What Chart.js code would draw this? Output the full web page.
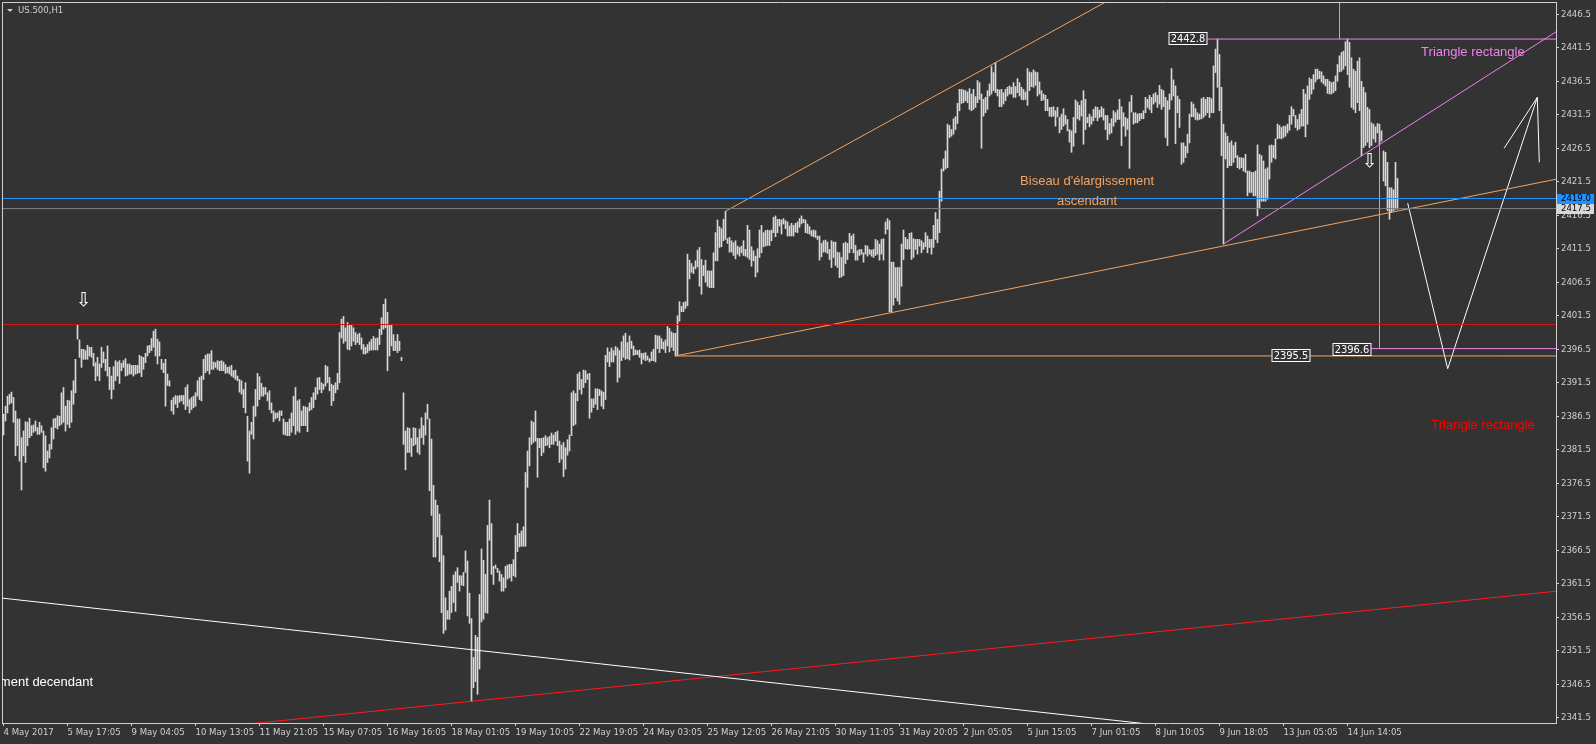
<!DOCTYPE html>
<html>
<head>
<meta charset="utf-8">
<title>US.500,H1</title>
<script src="https://cdn.jsdelivr.net/npm/chart.js@4.4.1/dist/chart.umd.min.js"></script>
<style>
  html, body { margin: 0; padding: 0; background: #333333; }
  canvas { display: block; }
</style>
</head>
<body>
<canvas id="chart" width="1596" height="744"></canvas>
<script>
// US.500 H1 bars, 4 May -> 14 Jun 2017 (high / low)
var highs = [
  2386.8, 2388.0, 2389.5, 2389.8, 2390.1, 2389.3, 2387.3, 2386.1, 2386.1, 2383.3,
  2384.3, 2385.7, 2385.6, 2386.2, 2385.1, 2385.2, 2385.8, 2384.8, 2385.6, 2385.1,
  2384.3, 2383.6, 2381.3, 2382.3, 2384.8, 2386.1, 2386.2, 2386.6, 2386.5, 2390.0,
  2390.8, 2388.0, 2388.9, 2388.8, 2390.3, 2391.8, 2395.0, 2400.1, 2397.9, 2396.5,
  2396.5, 2396.3, 2397.1, 2396.8, 2396.8, 2395.9, 2394.5, 2395.3, 2394.3, 2396.8,
  2396.1, 2395.0, 2397.0, 2393.8, 2392.5, 2393.9, 2394.8, 2394.6, 2394.8, 2394.4,
  2394.8, 2395.1, 2394.3, 2394.3, 2394.1, 2394.1, 2394.1, 2394.1, 2395.6, 2395.4,
  2395.3, 2395.9, 2397.0, 2397.1, 2398.1, 2399.2, 2399.5, 2398.0, 2397.6, 2395.0,
  2394.4, 2395.0, 2392.8, 2391.8, 2388.9, 2389.3, 2389.6, 2389.5, 2389.6, 2389.6,
  2389.6, 2390.8, 2391.2, 2389.0, 2389.3, 2389.5, 2390.0, 2391.8, 2392.3, 2392.5,
  2395.0, 2395.6, 2395.8, 2395.8, 2396.3, 2394.6, 2394.5, 2394.8, 2394.7, 2394.8,
  2394.6, 2394.2, 2393.8, 2393.9, 2394.1, 2393.3, 2393.4, 2392.5, 2392.0, 2391.8,
  2390.5, 2391.5, 2386.5, 2384.3, 2385.6, 2388.0, 2390.5, 2392.9, 2392.4, 2391.4,
  2390.8, 2390.8, 2390.0, 2390.3, 2388.5, 2387.3, 2387.0, 2387.0, 2387.3, 2387.3,
  2386.1, 2385.6, 2385.6, 2386.1, 2387.0, 2389.5, 2390.8, 2388.8, 2389.0, 2387.3,
  2388.0, 2387.9, 2387.8, 2388.5, 2389.3, 2390.0, 2390.8, 2392.2, 2392.3, 2391.5,
  2391.3, 2394.1, 2393.9, 2392.3, 2391.3, 2391.1, 2391.5, 2392.9, 2399.0, 2401.0,
  2401.4, 2399.7, 2400.5, 2400.2, 2400.1, 2399.7, 2399.0, 2398.7, 2398.9, 2398.2,
  2397.2, 2396.8, 2397.2, 2397.6, 2398.0, 2398.4, 2398.1, 2398.2, 2399.5, 2401.2,
  2403.2, 2404.0, 2402.0, 2400.2, 2400.2, 2398.7, 2397.7, 2398.7, 2397.7, 2395.3,
  2390.0, 2384.3, 2384.8, 2384.7, 2383.2, 2384.8, 2384.7, 2383.3, 2384.6, 2386.3,
  2385.1, 2387.0, 2388.3, 2386.1, 2383.1, 2376.2, 2374.0, 2373.2, 2371.9, 2368.7,
  2365.7, 2359.4, 2357.5, 2360.4, 2361.1, 2362.8, 2363.3, 2363.9, 2362.7, 2362.7,
  2363.2, 2366.4, 2364.9, 2360.1, 2356.3, 2350.5, 2353.8, 2353.5, 2359.9, 2366.7,
  2365.0, 2362.9, 2370.2, 2374.0, 2370.5, 2364.1, 2364.3, 2363.8, 2363.4, 2362.9,
  2362.4, 2364.1, 2364.3, 2364.4, 2364.4, 2365.1, 2368.7, 2370.5, 2369.0, 2369.4,
  2370.0, 2378.1, 2381.3, 2383.3, 2385.8, 2385.6, 2387.3, 2383.2, 2383.2, 2383.2,
  2383.3, 2383.6, 2383.3, 2383.5, 2384.0, 2383.7, 2384.1, 2384.3, 2382.8, 2382.2,
  2382.6, 2381.8, 2383.0, 2383.7, 2390.0, 2390.3, 2389.9, 2392.8,
  2393.1, 2392.0, 2393.4, 2393.3, 2392.8, 2392.9, 2389.1, 2389.1, 2390.6, 2390.6,
  2390.5, 2390.3, 2390.1, 2395.6, 2396.7, 2396.1, 2396.7, 2396.3, 2396.9, 2396.7,
  2396.3, 2397.6, 2398.5, 2398.9, 2397.5, 2398.5, 2397.7, 2397.0, 2396.4, 2396.3,
  2396.4, 2395.9, 2395.9, 2396.0, 2395.5, 2395.1, 2396.1, 2396.5, 2398.6, 2398.5,
  2398.5, 2398.1, 2397.6, 2397.9, 2399.9, 2399.6, 2399.1, 2398.9, 2398.9, 2401.5,
  2403.6, 2402.9, 2403.5, 2403.6, 2410.7, 2409.8, 2409.3, 2408.8, 2409.7, 2411.3,
  2411.7, 2409.9, 2409.0, 2409.8, 2408.2, 2408.2, 2408.2, 2410.9, 2413.9, 2415.8,
  2414.8, 2414.5, 2415.9, 2417.1, 2413.0, 2413.2, 2412.7, 2412.4, 2412.7, 2411.9,
  2411.7, 2411.9, 2412.7, 2411.4, 2415.0, 2414.3, 2411.8, 2411.2, 2410.4, 2411.5,
  2414.3, 2415.0, 2413.9, 2414.2, 2414.3, 2414.2, 2414.3, 2416.2, 2416.4, 2415.9,
  2415.9, 2415.8, 2416.0, 2415.7, 2415.5, 2414.9, 2415.3, 2415.0, 2415.3, 2415.5,
  2416.0, 2416.4, 2415.9, 2415.8, 2415.2, 2414.8, 2414.2, 2414.3, 2414.2, 2413.4,
  2413.4, 2412.3, 2412.7, 2412.8, 2412.5, 2411.4, 2412.7, 2412.5, 2412.5, 2411.0,
  2410.9, 2410.2, 2412.3, 2412.5, 2412.3, 2413.8, 2413.4, 2413.7, 2412.0, 2411.2,
  2411.4, 2411.4, 2410.9, 2412.0, 2411.9, 2411.4, 2411.3, 2411.4, 2412.9, 2412.7,
  2412.2, 2412.9, 2413.0, 2415.5, 2416.0, 2415.7, 2409.5, 2409.5, 2408.7, 2408.7,
  2408.7, 2412.2, 2414.3, 2413.2, 2412.9, 2413.8, 2413.9, 2413.0, 2412.9, 2412.9,
  2412.9, 2412.7, 2412.4, 2413.9, 2413.4, 2412.9, 2412.9, 2415.0, 2416.9, 2415.9,
  2420.1, 2423.4, 2424.9, 2426.1, 2430.1, 2429.9, 2429.3, 2430.9, 2431.2, 2433.2,
  2435.3, 2435.3, 2435.2, 2435.1, 2434.9, 2435.4, 2434.6, 2435.3, 2434.2, 2436.6,
  2436.3, 2434.6, 2433.8, 2434.1, 2435.1, 2436.1, 2438.7, 2437.8, 2439.3, 2435.3,
  2435.2, 2435.3, 2434.8, 2435.3, 2435.6, 2435.8, 2435.6, 2436.3, 2435.7, 2436.9,
  2436.3, 2435.6, 2435.3, 2434.9, 2438.4, 2437.9, 2437.8, 2438.2, 2437.9, 2437.8,
  2436.4, 2435.1, 2434.6, 2434.4, 2433.8, 2432.6, 2432.6, 2432.7, 2432.1, 2432.6,
  2431.1, 2431.6, 2432.4, 2431.4, 2430.8, 2429.3, 2429.1, 2431.1, 2433.7, 2433.4,
  2432.9, 2433.6, 2435.1, 2433.8, 2431.1, 2431.6, 2431.2, 2432.3, 2432.7, 2432.6,
  2432.2, 2432.7, 2432.4, 2431.4, 2431.4, 2430.2, 2430.9, 2432.1, 2431.8, 2432.2,
  2433.8, 2432.7, 2431.8, 2431.1, 2430.9, 2433.4, 2434.4, 2431.8, 2431.8, 2431.6,
  2431.7, 2431.7, 2432.1, 2434.1, 2433.8, 2434.4, 2434.1, 2434.6, 2434.8, 2434.4,
  2435.9, 2435.3, 2435.1, 2434.1, 2433.6, 2434.6, 2438.4, 2436.7, 2435.8, 2434.3,
  2433.8, 2427.3, 2427.3, 2426.8, 2428.6, 2431.6, 2433.4, 2433.1, 2432.4, 2431.8,
  2431.6, 2433.9, 2434.1, 2433.8, 2434.1, 2434.1, 2433.9, 2438.8, 2441.3, 2442.8,
  2440.5, 2435.6, 2430.1, 2428.8, 2428.3, 2427.3, 2427.6, 2426.9, 2427.4, 2425.4,
  2425.1, 2425.1, 2425.0, 2425.6, 2423.1, 2423.1, 2422.9, 2422.9, 2423.1, 2427.0,
  2425.6, 2425.4, 2424.6, 2423.4, 2423.6, 2426.9, 2427.0, 2426.9, 2427.9, 2430.1,
  2429.9, 2429.6, 2429.8, 2429.8, 2430.1, 2431.4, 2432.7, 2432.3, 2431.4, 2430.8,
  2431.6, 2432.3, 2435.3, 2434.6, 2435.8, 2437.0, 2436.8, 2437.5, 2438.3, 2438.3,
  2438.0, 2437.9, 2437.3, 2436.8, 2436.8, 2436.5, 2436.3, 2436.4, 2437.3, 2439.0,
  2440.3, 2440.8, 2441.0, 2442.4, 2442.8, 2442.3, 2440.0, 2438.3, 2438.0, 2439.5,
  2440.0, 2436.5, 2435.6, 2434.8, 2432.6, 2432.3, 2430.3, 2430.1, 2429.7, 2430.2,
  2430.1, 2429.1, 2426.1, 2425.9, 2424.4, 2420.6, 2420.6, 2420.3, 2424.4, 2422.0
];
var lows = [
  2383.7, 2385.8, 2387.0, 2388.3, 2388.5, 2385.6, 2380.6, 2382.1, 2379.8, 2375.5,
  2380.6, 2379.6, 2382.1, 2383.3, 2383.6, 2384.1, 2384.3, 2383.8, 2383.8, 2384.1,
  2378.8, 2378.3, 2379.6, 2380.3, 2381.6, 2383.1, 2384.8, 2384.6, 2385.1, 2385.3,
  2385.6, 2384.3, 2385.3, 2384.8, 2385.6, 2388.3, 2390.0, 2398.0, 2395.3, 2393.8,
  2395.0, 2395.0, 2395.0, 2395.5, 2395.3, 2394.0, 2391.8, 2392.5, 2391.8, 2393.8,
  2394.5, 2393.3, 2392.5, 2390.5, 2389.1, 2390.5, 2391.8, 2392.5, 2391.4, 2393.3,
  2393.8, 2392.5, 2392.6, 2392.8, 2392.8, 2392.5, 2392.8, 2392.9, 2393.0, 2392.4,
  2393.5, 2394.5, 2395.5, 2396.0, 2396.3, 2396.8, 2395.5, 2394.3, 2395.5, 2393.5,
  2393.0, 2388.0, 2391.1, 2391.0, 2387.3, 2386.8, 2388.3, 2387.8, 2388.6, 2388.8,
  2388.3, 2387.5, 2388.0, 2387.0, 2387.5, 2387.8, 2388.0, 2389.5, 2389.0, 2388.8,
  2392.0, 2393.0, 2393.3, 2392.8, 2393.5, 2393.5, 2393.8, 2393.5, 2393.3, 2393.3,
  2393.3, 2392.9, 2393.0, 2392.8, 2392.5, 2392.3, 2392.0, 2391.8, 2390.1, 2389.8,
  2387.8, 2387.0, 2379.8, 2378.0, 2383.8, 2383.1, 2386.5, 2388.0, 2389.0, 2389.5,
  2389.5, 2389.8, 2388.8, 2387.5, 2387.0, 2385.7, 2386.1, 2386.3, 2385.8, 2386.6,
  2383.8, 2383.7, 2383.6, 2383.6, 2384.1, 2385.1, 2383.8, 2384.3, 2384.1, 2385.1,
  2385.1, 2385.1, 2384.2, 2387.3, 2387.5, 2387.8, 2389.0, 2389.8, 2390.5, 2390.0,
  2390.5, 2391.0, 2391.5, 2390.3, 2388.1, 2388.8, 2390.0, 2390.5, 2391.5, 2398.2,
  2397.4, 2397.7, 2396.5, 2396.4, 2397.0, 2397.7, 2397.2, 2397.5, 2397.2, 2396.5,
  2395.8, 2395.8, 2396.0, 2396.3, 2396.4, 2396.4, 2396.4, 2396.4, 2397.2, 2398.7,
  2399.5, 2399.7, 2393.3, 2395.5, 2397.0, 2396.3, 2396.3, 2396.0, 2396.3, 2394.8,
  2382.3, 2378.5, 2381.1, 2381.1, 2380.5, 2382.1, 2382.3, 2381.1, 2380.8, 2383.3,
  2382.3, 2383.7, 2386.1, 2375.4, 2371.7, 2365.5, 2365.5, 2368.5, 2364.8, 2357.2,
  2354.1, 2354.6, 2356.2, 2356.2, 2357.2, 2358.7, 2357.4, 2361.7, 2360.4, 2361.3,
  2361.2, 2363.2, 2356.7, 2355.6, 2343.9, 2346.0, 2346.9, 2345.0, 2348.8, 2355.8,
  2356.2, 2357.2, 2357.1, 2368.0, 2362.9, 2361.4, 2363.8, 2363.2, 2361.9, 2360.4,
  2360.4, 2360.9, 2362.2, 2362.4, 2361.9, 2362.7, 2362.5, 2366.3, 2367.0, 2367.1,
  2367.1, 2367.1, 2375.9, 2379.1, 2382.3, 2382.6, 2382.8, 2377.4, 2381.8, 2380.6,
  2381.1, 2382.1, 2382.2, 2381.8, 2382.3, 2382.3, 2382.8, 2382.1, 2379.6, 2380.1,
  2377.5, 2378.6, 2380.7, 2381.3, 2383.6, 2385.1, 2385.3, 2388.8,
  2390.5, 2389.8, 2390.8, 2391.5, 2392.0, 2386.2, 2387.1, 2387.8, 2388.3, 2387.5,
  2389.6, 2388.0, 2387.6, 2389.0, 2394.6, 2393.9, 2394.6, 2394.6, 2395.6, 2391.6,
  2392.3, 2394.8, 2395.3, 2395.0, 2395.1, 2394.9, 2396.6, 2395.6, 2395.7, 2395.7,
  2395.3, 2394.3, 2395.0, 2394.8, 2394.9, 2394.6, 2394.8, 2394.8, 2394.6, 2396.6,
  2396.0, 2396.6, 2396.5, 2396.0, 2397.0, 2396.1, 2396.8, 2396.3, 2395.5, 2395.6,
  2400.7, 2402.1, 2402.1, 2402.6, 2403.0, 2407.0, 2408.0, 2407.8, 2408.5, 2408.8,
  2405.9, 2404.7, 2407.5, 2406.5, 2405.9, 2405.7, 2405.7, 2405.7, 2409.7, 2409.7,
  2411.7, 2411.8, 2412.7, 2412.9, 2412.3, 2411.0, 2411.0, 2410.5, 2410.0, 2410.7,
  2410.4, 2410.9, 2410.5, 2410.4, 2410.2, 2409.9, 2408.9, 2409.7, 2407.3, 2408.0,
  2410.2, 2410.9, 2411.8, 2411.9, 2412.0, 2412.0, 2412.7, 2413.9, 2413.3, 2413.9,
  2414.9, 2413.7, 2415.2, 2414.5, 2413.4, 2413.4, 2413.4, 2413.4, 2414.0, 2413.9,
  2414.7, 2415.2, 2415.4, 2413.9, 2413.8, 2413.7, 2413.4, 2413.3, 2413.2, 2412.9,
  2409.8, 2410.3, 2411.0, 2411.0, 2410.8, 2409.9, 2408.7, 2410.2, 2409.0, 2408.7,
  2407.2, 2407.3, 2407.5, 2409.3, 2409.9, 2410.9, 2411.5, 2410.9, 2409.8, 2409.8,
  2410.5, 2410.7, 2409.5, 2410.7, 2410.4, 2410.7, 2410.4, 2410.2, 2410.5, 2410.7,
  2409.8, 2410.7, 2409.8, 2413.7, 2414.4, 2402.1, 2402.1, 2403.1, 2404.2, 2403.7,
  2403.2, 2405.9, 2409.9, 2411.5, 2411.4, 2411.5, 2409.9, 2410.2, 2411.4, 2410.7,
  2411.9, 2410.9, 2411.4, 2411.8, 2410.9, 2411.7, 2410.7, 2411.7, 2412.9, 2412.4,
  2413.9, 2418.6, 2423.1, 2423.4, 2423.6, 2428.1, 2428.3, 2428.6, 2429.3, 2430.2,
  2432.1, 2433.2, 2433.3, 2433.6, 2433.3, 2432.3, 2432.1, 2432.3, 2432.6, 2433.3,
  2433.8, 2426.5, 2431.3, 2431.8, 2432.3, 2434.3, 2434.6, 2435.1, 2434.8, 2434.3,
  2432.7, 2432.7, 2433.1, 2433.6, 2434.3, 2434.6, 2434.6, 2434.1, 2434.1, 2434.8,
  2434.3, 2433.8, 2433.7, 2433.8, 2432.9, 2435.1, 2435.7, 2435.6, 2435.9, 2434.3,
  2434.6, 2433.6, 2433.7, 2432.1, 2432.1, 2431.3, 2431.2, 2431.3, 2429.8, 2431.2,
  2428.8, 2429.3, 2429.8, 2430.1, 2429.1, 2427.4, 2425.9, 2426.8, 2428.8, 2430.9,
  2430.7, 2431.3, 2427.1, 2429.3, 2430.3, 2429.7, 2430.1, 2430.6, 2431.1, 2430.6,
  2431.1, 2431.2, 2430.7, 2429.3, 2427.8, 2428.6, 2428.8, 2429.8, 2430.4, 2430.8,
  2430.8, 2426.9, 2429.8, 2428.3, 2429.3, 2423.5, 2431.9, 2430.1, 2430.3, 2430.3,
  2430.6, 2430.9, 2430.9, 2431.8, 2432.6, 2432.3, 2431.8, 2433.1, 2433.4, 2432.6,
  2433.1, 2432.3, 2432.7, 2428.1, 2426.9, 2432.3, 2433.7, 2434.3, 2427.2, 2431.8,
  2429.6, 2424.1, 2424.4, 2425.1, 2425.8, 2427.3, 2431.2, 2431.2, 2430.8, 2430.7,
  2430.8, 2430.9, 2431.1, 2431.4, 2431.8, 2431.1, 2431.8, 2431.8, 2437.8, 2435.6,
  2432.1, 2425.4, 2412.2, 2424.9, 2423.6, 2423.9, 2423.9, 2424.4, 2425.1, 2423.6,
  2423.4, 2423.6, 2423.1, 2422.9, 2419.4, 2419.9, 2419.9, 2419.4, 2419.4, 2416.4,
  2417.6, 2418.6, 2418.6, 2418.6, 2418.9, 2421.9, 2424.4, 2425.1, 2424.9, 2427.9,
  2428.0, 2427.9, 2428.1, 2428.3, 2428.8, 2429.2, 2430.1, 2431.3, 2429.6, 2429.2,
  2429.4, 2429.8, 2429.8, 2428.2, 2430.1, 2433.8, 2434.6, 2435.3, 2436.4, 2436.8,
  2436.9, 2436.4, 2436.1, 2435.8, 2434.7, 2434.6, 2434.6, 2434.8, 2435.1, 2436.5,
  2437.9, 2438.0, 2438.3, 2438.8, 2437.5, 2435.6, 2432.6, 2432.3, 2431.8, 2433.3,
  2432.1, 2425.4, 2426.6, 2426.9, 2427.4, 2426.6, 2426.9, 2427.9, 2427.4, 2428.8,
  2427.1, 2427.6, 2421.6, 2420.9, 2417.2, 2415.9, 2416.9, 2417.2, 2417.4, 2417.4
];

// time axis: one label every 32 hourly bars
var timeLabels = ['4 May 2017', '5 May 17:05', '9 May 04:05', '10 May 13:05', '11 May 21:05',
  '15 May 07:05', '16 May 16:05', '18 May 01:05', '19 May 10:05', '22 May 19:05', '24 May 03:05',
  '25 May 12:05', '26 May 21:05', '30 May 11:05', '31 May 20:05', '2 Jun 05:05', '5 Jun 15:05',
  '7 Jun 01:05', '8 Jun 10:05', '9 Jun 18:05', '13 Jun 05:05', '14 Jun 14:05'];
var barsPerLabel = 32;
var priceTicks = [2341.5, 2346.5, 2351.5, 2356.5, 2361.5, 2366.5, 2371.5, 2376.5, 2381.5, 2386.5, 2391.5,
  2396.5, 2401.5, 2406.5, 2411.5, 2416.5, 2421.5, 2426.5, 2431.5, 2436.5, 2441.5, 2446.5];

// drawn objects: [bar, price] end points
var redLevel = 2400.2, blueLevel = 2419.0, bidPrice = 2417.5;
var wedgeBase  = [[336, 2395.5], [800, 2395.5]];
var wedgeLower = [[336, 2395.5], [800, 2423.3]];
var wedgeUpper = [[361, 2417.1], [560, 2449.8]];
var triTop     = [[601, 2442.8], [800, 2442.8]];
var triSide    = [[610, 2412.2], [800, 2448.4]];
var triMarkA   = [[668, 2442.8], [668, 2452.0]];
var triMarkB   = [[688, 2427.3], [688, 2396.6]];
var triBase    = [[683, 2396.6], [800, 2396.6]];
var forecast   = [[702.1, 2418.3], [722.1, 2393.6], [766.9, 2434.1], [767.9, 2424.4]];
var forecastTip = [[750.3, 2426.5], [766.9, 2434.1]];
var downLine   = [[-5, 2359.5], [800, 2333.1]];
var riseLine   = [[100, 2339.9], [800, 2361.1]];

var notes = [
  { text: "Biseau d'élargissement", bar: 541.8, price: 2421.6, color: '#f4a460', align: 'center' },
  { text: 'ascendant', bar: 541.8, price: 2418.6, color: '#f4a460', align: 'center' },
  { text: 'Triangle rectangle', bar: 734.7, price: 2440.8, color: '#ee82ee', align: 'center' },
  { text: 'Triangle rectangle', bar: 739.8, price: 2385.1, color: '#ff0000', align: 'center' },
  { text: "Biseau d'élargissement decendant", bar: 44.8, price: 2346.8, color: '#ffffff', align: 'right' }
];
var priceTags = [
  { text: '2442.8', bar: 592.3, price: 2442.9 },
  { text: '2396.6', bar: 674.1, price: 2396.55 },
  { text: '2395.5', bar: 643.9, price: 2395.6 }
];
var arrows = [[40, 2403.7], [683, 2424.4]];

var bg = '#333333', fg = '#d0d0d0';
var axisFont = '"DejaVu Sans Condensed", "DejaVu Sans", sans-serif';
var noteFont = '"Liberation Sans", Arial, sans-serif';

function seg(pts, color) {
  return {
    type: 'line',
    data: pts.map(function (p) { return { x: p[0], y: p[1] }; }),
    borderColor: color,
    borderWidth: 1,
    pointRadius: 0,
    tension: 0,
    order: 1
  };
}

var overlay = {
  id: 'overlay',
  afterDraw: function (chart) {
    var ctx = chart.ctx, a = chart.chartArea, xs = chart.scales.x, ys = chart.scales.y;
    ctx.save();
    // left / top frame
    ctx.strokeStyle = fg;
    ctx.lineWidth = 1;
    ctx.beginPath();
    ctx.moveTo(a.left + 0.5, a.bottom);
    ctx.lineTo(a.left + 0.5, a.top + 0.5);
    ctx.lineTo(a.right, a.top + 0.5);
    ctx.stroke();

    ctx.save();
    ctx.beginPath();
    ctx.rect(a.left, a.top, a.right - a.left, a.bottom - a.top);
    ctx.clip();
    ctx.font = '13px ' + noteFont;
    ctx.textBaseline = 'middle';
    notes.forEach(function (n) {
      ctx.fillStyle = n.color;
      ctx.textAlign = n.align;
      ctx.fillText(n.text, xs.getPixelForValue(n.bar), ys.getPixelForValue(n.price));
    });

    ctx.font = '11px ' + axisFont;
    ctx.textAlign = 'center';
    priceTags.forEach(function (t) {
      var x = Math.round(xs.getPixelForValue(t.bar)), y = Math.round(ys.getPixelForValue(t.price));
      var w = Math.ceil(ctx.measureText(t.text).width) + 4;
      ctx.fillStyle = bg;
      ctx.fillRect(x - w / 2, y - 6, w, 12);
      ctx.strokeStyle = '#ffffff';
      ctx.strokeRect(x - w / 2 + 0.5, y - 6 + 0.5, w - 1, 12);
      ctx.fillStyle = '#ffffff';
      ctx.fillText(t.text, x, y + 1);
    });

    ctx.font = '19px "DejaVu Sans", sans-serif';
    ctx.fillStyle = '#ffffff';
    arrows.forEach(function (p) {
      ctx.fillText('\u21e9', xs.getPixelForValue(p[0]), ys.getPixelForValue(p[1]));
    });
    ctx.restore();

    // price boxes on the axis
    ctx.font = '9.5px ' + axisFont;
    ctx.textAlign = 'left';
    ctx.textBaseline = 'middle';
    [[blueLevel, '#1e90ff'], [bidPrice, '#d8d8d8']].forEach(function (b) {
      var y = Math.round(ys.getPixelForValue(b[0]));
      ctx.fillStyle = b[1];
      ctx.fillRect(a.right + 1, y - 5, 37, 10);
      ctx.fillStyle = '#000000';
      ctx.fillText(b[0].toFixed(1), a.right + 5, y);
    });

    // window title
    ctx.fillStyle = fg;
    ctx.beginPath();
    ctx.moveTo(7, 9);
    ctx.lineTo(13, 9);
    ctx.lineTo(10, 12);
    ctx.closePath();
    ctx.fill();
    ctx.font = '9.5px ' + axisFont;
    ctx.fillText('US.500,H1', 18, 11);
    ctx.restore();
  }
};

var bars = highs.map(function (h, i) { return { x: i, y: [lows[i], h] }; });

new Chart(document.getElementById('chart'), {
  type: 'bar',
  data: {
    datasets: [
      { type: 'bar', data: bars, backgroundColor: '#d8d8d8', borderWidth: 0, barThickness: 1, order: 10 },
      seg([[-5, redLevel], [800, redLevel]], '#dd1111'),
      seg([[-5, blueLevel], [800, blueLevel]], '#1e90ff'),
      seg([[-5, bidPrice], [800, bidPrice]], '#808080'),
      seg(downLine, '#ffffff'),
      seg(riseLine, '#ff1a1a'),
      seg(wedgeBase, '#f4a460'),
      seg(wedgeLower, '#f4a460'),
      seg(wedgeUpper, '#f4a460'),
      seg(triTop, '#ee82ee'),
      seg(triSide, '#ee82ee'),
      seg(triMarkA, '#ee82ee'),
      seg(triMarkB, '#ee82ee'),
      seg(triBase, '#ee82ee'),
      seg(forecast, '#ffffff'),
      seg(forecastTip, '#ffffff')
    ]
  },
  options: {
    responsive: false,
    animation: false,
    devicePixelRatio: 1,
    layout: { padding: { left: 2, top: 2, right: 0, bottom: 0 } },
    plugins: { legend: { display: false }, tooltip: { enabled: false } },
    scales: {
      x: {
        type: 'linear',
        min: -0.75,
        max: 776.25,
        offset: false,
        grid: { offset: false, drawOnChartArea: false, drawTicks: true, tickLength: 3, color: fg },
        border: { display: true, color: fg },
        afterFit: function (s) { s.height = 21; s.paddingLeft = 0; s.paddingRight = 0; },
        afterBuildTicks: function (s) {
          s.ticks = timeLabels.map(function (t, k) { return { value: k * barsPerLabel }; });
        },
        ticks: {
          autoSkip: false,
          maxRotation: 0,
          minRotation: 0,
          align: 'start',
          padding: 1,
          color: fg,
          font: { family: axisFont, size: 9.5 },
          callback: function (v, i) { return timeLabels[i]; }
        }
      },
      y: {
        position: 'right',
        min: 2340.72,
        max: 2448.33,
        beginAtZero: false,
        grid: { drawOnChartArea: false, drawTicks: true, tickLength: 3, color: fg },
        border: { display: true, color: fg },
        afterFit: function (s) { s.width = 40; s.paddingTop = 0; s.paddingBottom = 0; },
        afterBuildTicks: function (s) {
          s.ticks = priceTicks.map(function (v) { return { value: v }; });
        },
        ticks: {
          padding: 2,
          color: fg,
          font: { family: axisFont, size: 9.5 },
          callback: function (v) { return Number(v).toFixed(1); }
        }
      }
    }
  },
  plugins: [overlay]
});
</script>
</body>
</html>
